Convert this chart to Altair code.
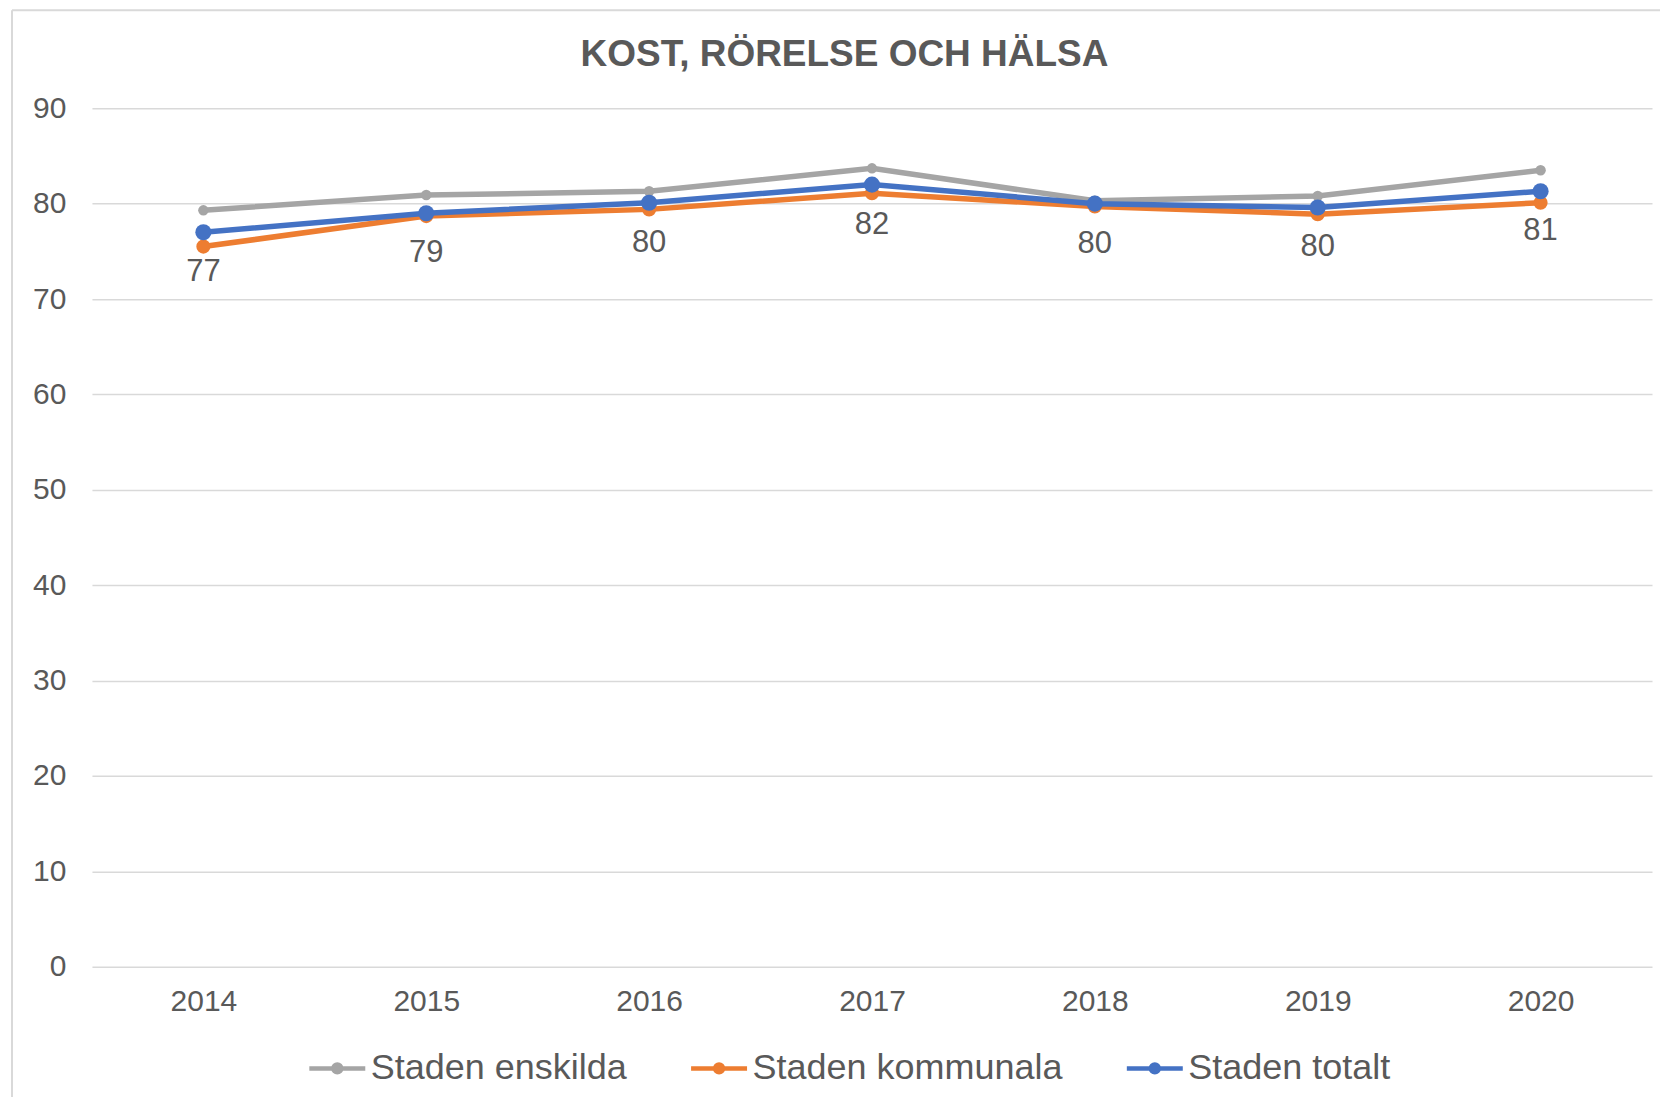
import altair as alt
import pandas as pd

TITLE = "KOST, RÖRELSE OCH HÄLSA"
years = ["2014", "2015", "2016", "2017", "2018", "2019", "2020"]
series_names = ["Staden enskilda", "Staden kommunala", "Staden totalt"]
enskilda = [79.3, 80.9, 81.3, 83.7, 80.3, 80.8, 83.5]
kommunala = [75.5, 78.7, 79.4, 81.1, 79.7, 78.9, 80.1]
totalt = [77.0, 79.0, 80.1, 82.0, 80.0, 79.6, 81.3]
y_ticks = [0, 10, 20, 30, 40, 50, 60, 70, 80, 90]

colors = ["#A5A5A5", "#ED7D31", "#4472C4"]
marker_sizes = [110, 200, 260]
TXT = "#595959"
FONT = "Liberation Sans"

rows = []
for name, vals in zip(series_names, [enskilda, kommunala, totalt]):
    for yr, v in zip(years, vals):
        rows.append({"year": yr, "series": name, "value": v})
df = pd.DataFrame(rows)
labels_df = pd.DataFrame({"year": years, "value": totalt})

x_enc = alt.X(
    "year:N", sort=years, title=None,
    axis=alt.Axis(labelAngle=0, labelFontSize=30, labelColor=TXT, labelFont=FONT,
                  labelPadding=20, domain=False, ticks=False, grid=False),
)
y_enc = alt.Y(
    "value:Q", title=None, scale=alt.Scale(domain=[0, 90], nice=False, zero=True),
    axis=alt.Axis(values=y_ticks, labelFontSize=30, labelColor=TXT, labelFont=FONT,
                  labelPadding=26, domain=False, ticks=False, grid=True,
                  gridColor="#D9D9D9", gridWidth=1.5),
)
color_scale = alt.Scale(domain=series_names, range=colors)

legend_path = ("M-1,0L1,0M0.14,0A0.14,0.14,0,1,1,-0.14,0A0.14,0.14,0,1,1,0.14,0")
legend = alt.Legend(
    title=None, orient="none", legendX=215, legendY=930,
    direction="horizontal", symbolType=legend_path, symbolSize=3136,
    symbolOpacity=1, symbolStrokeWidth=4.5,
    labelFontSize=36, labelColor=TXT, labelFont=FONT, labelLimit=0,
    labelOffset=3, columnPadding=54, padding=0,
)
color_enc = alt.Color("series:N", scale=color_scale, legend=legend)

lines = alt.Chart(df).mark_line(strokeWidth=5.5).encode(
    x=x_enc, y=y_enc, color=color_enc,
)

point_layers = []
for name, sz in zip(series_names, marker_sizes):
    point_layers.append(
        alt.Chart(df).transform_filter(alt.datum.series == name)
        .mark_point(filled=True, opacity=1, size=sz)
        .encode(x=x_enc, y=y_enc, color=color_enc)
    )

texts = alt.Chart(labels_df).mark_text(
    fontSize=31, color=TXT, font=FONT, dy=40, baseline="middle"
).encode(
    x=x_enc, y=y_enc, text=alt.Text("value:Q", format=".0f"),
)

title_df = pd.DataFrame({"t": [TITLE]})
title_mark = alt.Chart(title_df).mark_text(
    fontSize=37, font=FONT, fontWeight="bold", color=TXT, align="center", baseline="alphabetic"
).encode(x=alt.value(753), y=alt.value(-42), text="t:N")

frame_df = pd.DataFrame({"k": [0]})
frame_left = alt.Chart(frame_df).mark_rule(color="#D9D9D9", strokeWidth=2).encode(
    x=alt.value(-80), y=alt.value(-98), y2=alt.value(1000)
)
frame_top = alt.Chart(frame_df).mark_rule(color="#D9D9D9", strokeWidth=2).encode(
    x=alt.value(-80), x2=alt.value(1600), y=alt.value(-98)
)

chart = alt.layer(frame_left, frame_top, title_mark, lines, *point_layers, texts).properties(
    width=1561, height=859,
    autosize=alt.AutoSizeParams(type="none"),
    padding={"left": 84, "top": 100, "right": 8, "bottom": 130},
).configure_view(stroke=None)

chart.save("out.html", embed_options={"renderer": "svg", "actions": False})
